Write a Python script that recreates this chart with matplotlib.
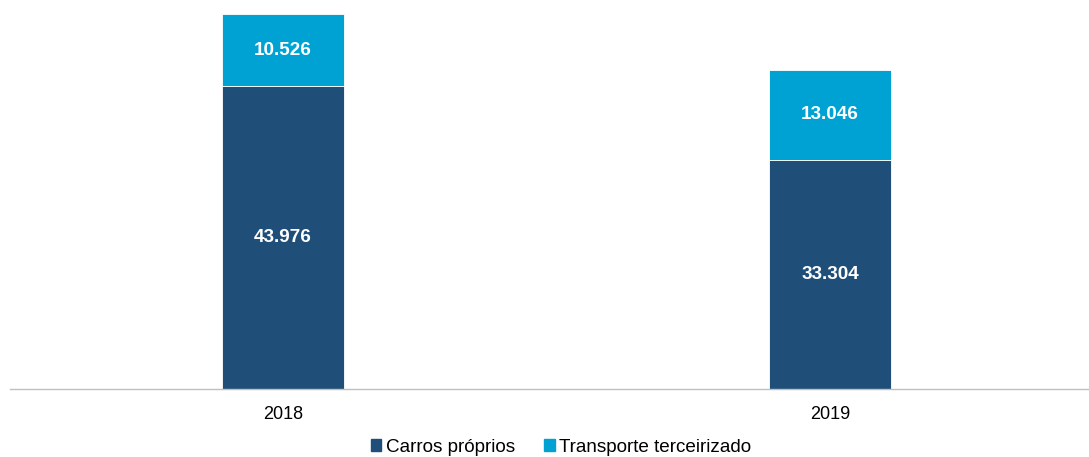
import matplotlib
matplotlib.use("Agg")
import matplotlib.pyplot as plt
from matplotlib.patches import Patch

plt.rcParams['font.family'] = ['Liberation Sans', 'DejaVu Sans']

categories = ["2018", "2019"]
carros_proprios = [43976, 33304]
transporte_terceirizado = [10526, 13046]
labels_proprios = ["43.976", "33.304"]
labels_terceirizado = ["10.526", "13.046"]
series_names = ["Carros próprios", "Transporte terceirizado"]

c_dark = "#1F4E79"
c_light = "#00A2D3"

W, H = 1089, 457
fig = plt.figure(figsize=(W/100, H/100), dpi=100)
ax_left = 10 / W
ax_bottom = (H - 389) / H
ax_top = 1 - 3.7 / H
ax = fig.add_axes([ax_left, ax_bottom, 1 - ax_left, ax_top - ax_bottom])

x = list(range(len(categories)))
width = 122 / 547
b1 = ax.bar(x, carros_proprios, width=width, color=c_dark, edgecolor="white", linewidth=0.6)
b2 = ax.bar(x, transporte_terceirizado, width=width, bottom=carros_proprios,
            color=c_light, edgecolor="white", linewidth=0.6)

for i in x:
    ax.text(i, carros_proprios[i] / 2, labels_proprios[i], ha="center", va="center",
            color="white", fontsize=13.6, fontweight="bold")
    ax.text(i, carros_proprios[i] + transporte_terceirizado[i] / 2, labels_terceirizado[i],
            ha="center", va="center", color="white", fontsize=13.6, fontweight="bold")

ax.set_xlim(-273/547, 1 + 259/547)
ax.set_ylim(0, 56000)
ax.set_xticks(x)
ax.set_xticklabels(categories, fontsize=13)
ax.tick_params(axis="x", length=0, pad=12)
ax.set_yticks([])
for s in ["top", "right", "left"]:
    ax.spines[s].set_visible(False)
ax.spines["bottom"].set_color("#BFBFBF")
ax.spines["bottom"].set_linewidth(1)

handles = [Patch(color=c_dark), Patch(color=c_light)]
fig.legend(handles, series_names, loc="center", bbox_to_anchor=(561/W, 1 - 447/H),
           ncol=2, frameon=False, fontsize=13.6, handlelength=0.55, handleheight=0.55,
           handletextpad=0.25, columnspacing=1.55, borderpad=0.1)

fig.savefig("out.png", dpi=100)
